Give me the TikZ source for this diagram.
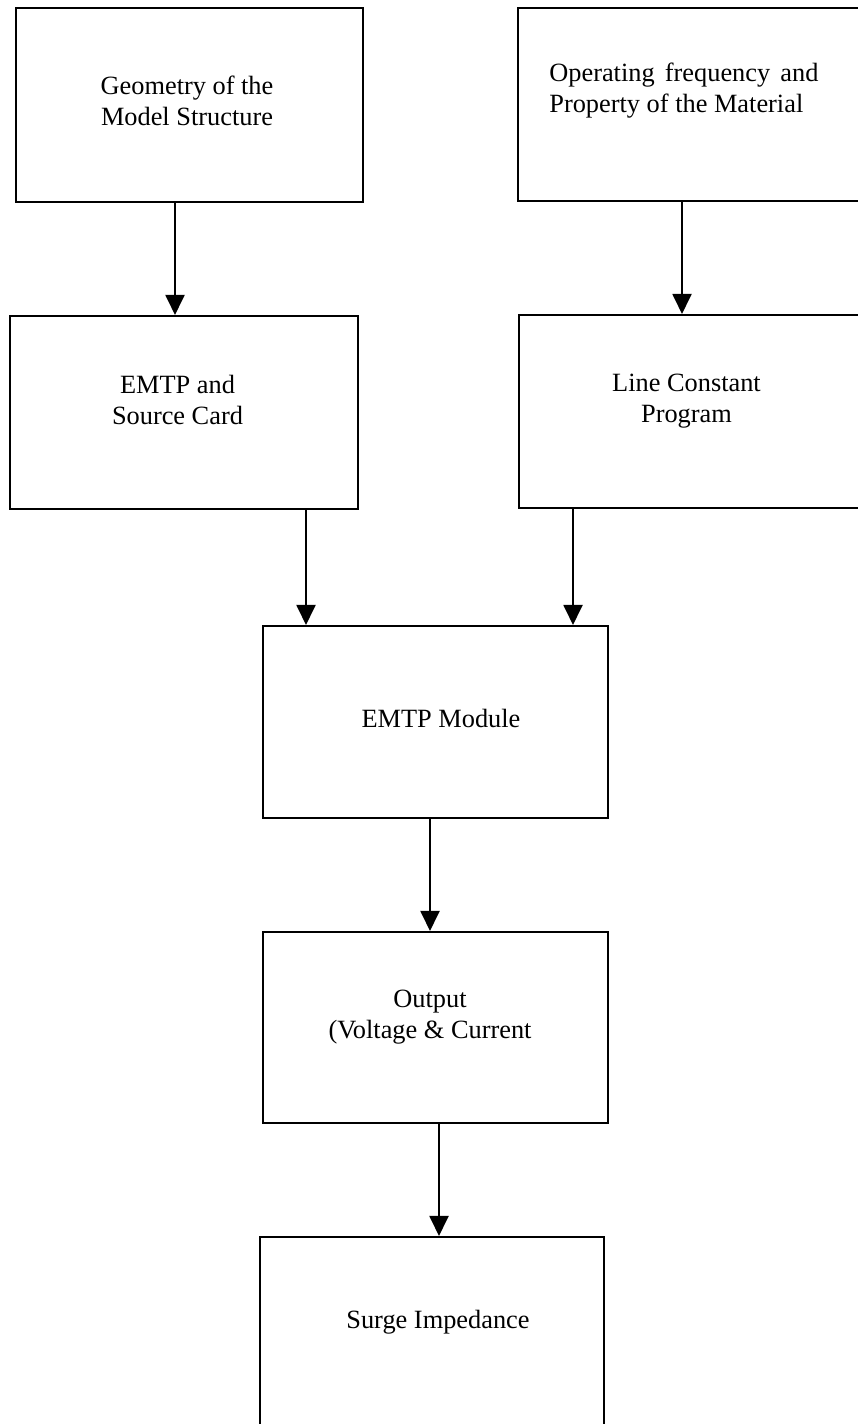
\documentclass[tikz,border=0pt]{standalone}
\usepackage{fontspec}
\setmainfont{Liberation Serif}
\usetikzlibrary{arrows.meta}
\tikzset{
  blk/.style={draw=black, line width=1.2pt, rectangle, inner sep=0pt},
  txt/.style={align=center, inner sep=0pt, font=\fontsize{15}{17.6}\selectfont},
  arr/.style={line width=1.1pt, -{Triangle[length=0.4cm,width=0.38cm]}}
}
\begin{document}
\begin{tikzpicture}[x=0.02cm,y=-0.02cm]
\useasboundingbox (0,0) rectangle (858,1424);
\node[blk, minimum width=6.94cm, minimum height=3.88cm] (geo) at ( 189.5, 105.0 ) {};
\node[txt] (geot) at ( 187.0, 100.5 ) {Geometry of the\\Model Structure};
\node[blk, minimum width=7.16cm, minimum height=3.86cm] (opf) at ( 697.0, 104.5 ) {};
\node[txt, anchor=west, align=left] (opft) at ( 549.0, 91.0 ) {Operating\hspace{5.8pt}frequency\hspace{5.8pt}and\\Property of the Material};
\node[blk, minimum width=6.96cm, minimum height=3.86cm] (emtp) at ( 184.0, 412.5 ) {};
\node[txt] (emtpt) at ( 177.5, 400.0 ) {EMTP and\\Source Card};
\node[blk, minimum width=7.14cm, minimum height=3.86cm] (lcp) at ( 697.5, 411.5 ) {};
\node[txt] (lcpt) at ( 686.5, 401.5 ) {Line Constant\\Program};
\node[blk, minimum width=6.90cm, minimum height=3.84cm] (mod) at ( 435.5, 722.0 ) {};
\node[txt] (modt) at ( 441.0, 718.0 ) {EMTP Module};
\node[blk, minimum width=6.90cm, minimum height=3.82cm] (out) at ( 435.5, 1027.5 ) {};
\node[txt] (outt) at ( 430.0, 1017.0 ) {Output\\(Voltage \& Current};
\node[blk, minimum width=6.88cm, minimum height=3.90cm] (surge) at ( 432.0, 1334.5 ) {};
\node[txt] (surget) at ( 438.0, 1322.0 ) {Surge Impedance};
% arrows
\draw[arr] (geo.south -| 175,0) -- (emtp.north -| 175,0);
\draw[arr] (opf.south -| 682,0) -- (lcp.north -| 682,0);
\draw[arr] (emtp.south -| 306,0) -- (mod.north -| 306,0);
\draw[arr] (lcp.south -| 573,0) -- (mod.north -| 573,0);
\draw[arr] (mod.south -| 430,0) -- (out.north -| 430,0);
\draw[arr] (out.south -| 439,0) -- (surge.north -| 439,0);
\end{tikzpicture}
\end{document}
